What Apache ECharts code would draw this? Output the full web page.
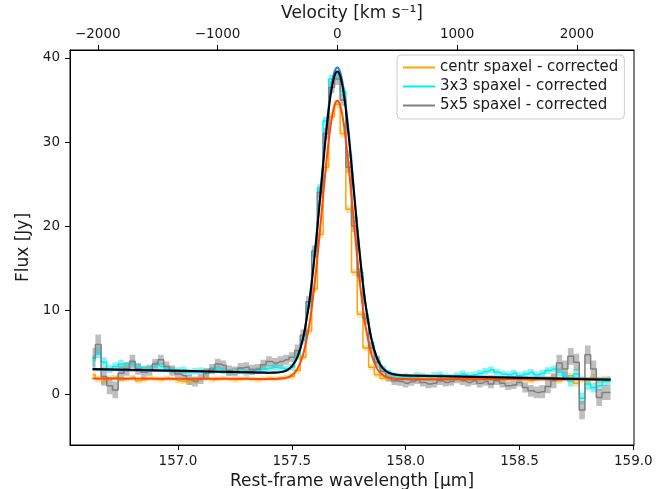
<!DOCTYPE html>
<html>
<head>
<meta charset="utf-8">
<script src="https://cdn.jsdelivr.net/npm/echarts@6/dist/echarts.min.js"></script>
<style>html,body{margin:0;padding:0;background:#fff}#c{width:657px;height:489px}</style>
</head>
<body>
<div id="c"></div>
<script>
// Channel wavelengths [μm]
const wavelength = [
156.625,156.65,156.675,156.7,156.725,156.75,156.775,156.8,156.825,156.85,
156.875,156.9,156.925,156.95,156.975,157.0,157.025,157.05,157.075,157.1,
157.125,157.15,157.175,157.2,157.225,157.25,157.275,157.3,157.325,157.35,
157.375,157.4,157.425,157.45,157.475,157.5,157.525,157.55,157.575,157.6,
157.625,157.65,157.675,157.7,157.725,157.75,157.775,157.8,157.825,157.85,
157.875,157.9,157.925,157.95,157.975,158.0,158.025,158.05,158.075,158.1,
158.125,158.15,158.175,158.2,158.225,158.25,158.275,158.3,158.325,158.35,
158.375,158.4,158.425,158.45,158.475,158.5,158.525,158.55,158.575,158.6,
158.625,158.65,158.675,158.7,158.725,158.75,158.775,158.8,158.825,158.85,
158.875,158.9];

const centrFlux = [
2.3,1.8,1.6,1.9,2.0,1.7,1.8,2.0,1.6,1.7,
1.9,1.8,1.7,1.9,1.8,1.6,1.5,1.4,1.6,1.8,
1.9,1.7,1.8,1.9,1.8,1.7,1.8,1.9,1.8,1.7,
1.8,1.9,1.8,1.9,2.0,2.1,2.8,4.4,7.5,12.5,
19.0,27.0,33.0,34.5,31.0,22.0,14.5,9.5,5.5,3.2,
2.3,1.9,1.8,1.7,1.8,1.9,1.8,1.7,1.8,1.9,
1.8,1.7,1.8,1.9,1.8,1.7,1.9,1.8,1.8,1.9,
2.0,1.8,1.7,1.8,1.9,1.8,1.7,1.6,1.8,1.9,
1.9,2.1,1.6,1.9,2.2,1.3,1.8,1.6,2.0,1.7,
1.8,1.8];
const centrErr = [
0.4,0.4,0.35,0.35,0.3,0.3,0.3,0.3,0.3,0.3,
0.3,0.3,0.3,0.3,0.3,0.3,0.3,0.3,0.3,0.3,
0.3,0.3,0.3,0.3,0.3,0.3,0.3,0.3,0.3,0.3,
0.3,0.3,0.3,0.3,0.3,0.3,0.35,0.35,0.4,0.4,
0.45,0.5,0.5,0.5,0.5,0.45,0.4,0.4,0.35,0.35,
0.3,0.3,0.3,0.3,0.3,0.3,0.3,0.3,0.3,0.3,
0.3,0.3,0.3,0.3,0.3,0.3,0.3,0.3,0.3,0.3,
0.3,0.3,0.3,0.3,0.3,0.3,0.3,0.3,0.3,0.3,
0.3,0.3,0.35,0.35,0.35,0.4,0.4,0.4,0.4,0.4,
0.4,0.4];

const flux3x3 = [
4.0,5.0,3.8,3.0,3.3,3.6,3.4,3.7,3.2,3.0,
3.1,3.5,3.3,3.0,2.9,2.8,2.9,2.6,2.7,2.8,
2.6,2.9,3.0,2.8,2.6,2.7,2.8,2.6,2.7,2.8,
3.0,3.1,3.2,3.1,3.0,3.2,4.6,6.5,10.5,16.8,
24.5,32.5,37.5,38.0,36.0,28.5,21.0,14.5,9.0,5.8,
4.0,3.0,2.5,2.2,2.0,2.1,2.0,2.2,2.1,2.0,
2.2,2.3,2.1,2.0,2.2,2.4,2.2,2.3,2.5,2.7,
2.9,2.6,2.4,2.3,2.5,2.2,2.4,2.6,2.3,2.5,
2.8,3.0,2.6,2.2,1.5,2.4,-0.5,1.2,0.8,1.0,
1.5,1.6];
const err3x3 = [
0.7,0.7,0.6,0.5,0.5,0.5,0.4,0.4,0.4,0.4,
0.4,0.4,0.4,0.4,0.4,0.4,0.4,0.4,0.4,0.4,
0.4,0.4,0.4,0.4,0.4,0.4,0.4,0.4,0.4,0.4,
0.4,0.4,0.4,0.4,0.4,0.4,0.5,0.5,0.5,0.5,
0.5,0.5,0.5,0.5,0.5,0.5,0.5,0.5,0.5,0.5,
0.5,0.4,0.4,0.4,0.4,0.4,0.4,0.4,0.4,0.4,
0.4,0.4,0.4,0.4,0.4,0.4,0.4,0.4,0.4,0.4,
0.4,0.4,0.4,0.4,0.4,0.4,0.4,0.4,0.4,0.4,
0.4,0.4,0.5,0.5,0.6,0.6,0.7,0.7,0.6,0.6,
0.5,0.5];

const flux5x5 = [
4.3,5.9,2.1,1.0,0.5,2.5,3.0,3.9,3.0,2.6,
2.8,3.6,4.1,3.3,2.8,2.4,2.2,1.7,1.5,1.8,
2.5,3.0,3.6,3.4,2.8,2.7,3.1,3.2,2.9,3.0,
3.5,3.9,3.7,3.9,4.1,4.4,5.2,7.0,11.0,17.0,
24.0,31.0,36.5,37.5,35.0,27.0,20.0,14.0,9.0,5.5,
3.8,2.7,2.0,1.6,1.5,1.3,1.5,1.7,1.4,1.2,
1.3,1.6,1.4,1.5,1.8,1.6,1.4,1.6,1.3,1.5,
1.2,1.6,1.3,1.0,1.1,1.4,0.8,0.4,0.2,0.3,
0.9,1.6,3.7,3.0,4.5,3.8,-1.9,4.7,3.0,-0.4,
0.2,0.2];
const err5x5 = [
1.2,1.2,1.1,1.0,1.0,0.9,0.8,0.8,0.7,0.7,
0.6,0.6,0.6,0.6,0.6,0.6,0.6,0.6,0.6,0.6,
0.6,0.6,0.6,0.6,0.6,0.6,0.6,0.6,0.6,0.6,
0.6,0.6,0.6,0.6,0.6,0.6,0.7,0.7,0.7,0.7,
0.7,0.7,0.7,0.7,0.7,0.7,0.7,0.7,0.7,0.7,
0.7,0.5,0.5,0.5,0.5,0.5,0.5,0.5,0.5,0.5,
0.5,0.5,0.5,0.5,0.5,0.5,0.5,0.5,0.5,0.5,
0.5,0.5,0.5,0.5,0.5,0.5,0.6,0.7,0.7,0.8,
0.8,0.9,1.0,1.0,1.0,1.0,1.1,1.1,1.0,1.0,
0.9,0.9];

// Fitted models
const fitWave = [156.625,157.30,157.35,157.40,157.425,157.45,157.475,157.50,157.525,157.55,
157.575,157.5875,157.60,157.6125,157.625,157.6375,157.65,157.6625,157.675,157.6875,
157.70,157.7125,157.725,157.7375,157.75,157.7625,157.775,157.7875,157.80,157.8125,
157.825,157.85,157.875,157.90,157.925,157.95,157.975,158.00,158.05,158.90];
const fitCentr = [1.85,1.82,1.81,1.81,1.81,1.85,1.94,2.24,3.01,4.71,
7.91,10.22,13.02,16.26,19.82,23.50,27.06,30.23,32.74,34.34,
34.90,34.34,32.74,30.23,27.06,23.50,19.82,16.26,13.02,10.22,
7.91,4.71,3.01,2.24,1.94,1.84,1.80,1.79,1.78,1.74];
const fit3x3 = [2.90,2.57,2.55,2.53,2.54,2.59,2.78,3.28,4.45,6.74,
10.71,13.40,16.53,20.06,23.79,27.59,31.18,34.34,36.78,38.35,
38.88,38.34,36.76,34.29,31.14,27.52,23.72,19.96,16.44,13.27,
10.59,6.61,4.30,3.11,2.60,2.37,2.30,2.24,2.21,1.80];
const fit5x5 = [3.00,2.61,2.59,2.56,2.57,2.62,2.80,3.30,4.44,6.70,
10.60,13.25,16.35,19.82,23.51,27.25,30.79,33.90,36.32,37.86,
38.39,37.85,36.29,33.85,30.74,27.18,23.42,19.72,16.24,13.12,
10.45,6.53,4.24,3.07,2.55,2.33,2.26,2.21,2.19,1.70];

const lambdaTicks = [157.0, 157.5, 158.0, 158.5, 159.0];
const velocityTicks = [-2000, -1000, 0, 1000, 2000];
const fluxTicks = [0, 10, 20, 30, 40];
const seriesNames = ['centr spaxel - corrected', '3x3 spaxel - corrected', '5x5 spaxel - corrected'];

const lambdaMin = 156.526, lambdaMax = 159.003;
const restLambda = 157.70;
const cKms = 299792.458;
const velMin = (lambdaMin - restLambda) / restLambda * cKms;
const velMax = (lambdaMax - restLambda) / restLambda * cKms;

const FONT = 'DejaVu Sans';
const TXT = '#1a1a1a';

function pairs(xs, ys) { return xs.map((x, i) => [x, ys[i]]); }

// Step-shaped error band drawn as one polygon through the axis scales
function band(name, flux, err, fill) {
  const n = wavelength.length;
  return {
    type: 'custom', name: name, coordinateSystem: 'cartesian2d', silent: true, clip: true,
    data: [[wavelength[0], flux[0]]],
    renderItem: function (params, api) {
      const edgeL = i => (i === 0 ? wavelength[0] : (wavelength[i - 1] + wavelength[i]) / 2);
      const edgeR = i => (i === n - 1 ? wavelength[n - 1] : (wavelength[i] + wavelength[i + 1]) / 2);
      const pts = [];
      for (let i = 0; i < n; i++) {
        pts.push(api.coord([edgeL(i), flux[i] + err[i]]));
        pts.push(api.coord([edgeR(i), flux[i] + err[i]]));
      }
      for (let i = n - 1; i >= 0; i--) {
        pts.push(api.coord([edgeR(i), flux[i] - err[i]]));
        pts.push(api.coord([edgeL(i), flux[i] - err[i]]));
      }
      return { type: 'polygon', shape: { points: pts }, style: { fill: fill, stroke: null } };
    }
  };
}
function dataLine(name, flux, color) {
  return { type: 'line', name: name, step: 'middle', symbol: 'none', data: pairs(wavelength, flux),
    lineStyle: { color: color, width: 1.5 }, itemStyle: { color: color } };
}
function fitLine(name, ys, color) {
  return { type: 'line', name: name, symbol: 'none', smooth: 0.3,
    data: pairs(fitWave, ys), lineStyle: { color: color, width: 2 }, itemStyle: { color: color } };
}

const series = [
  band('band centr', centrFlux, centrErr, 'rgba(255,165,0,0.35)'),
  dataLine(seriesNames[0], centrFlux, '#FFA500'),
  band('band 3x3', flux3x3, err3x3, 'rgba(0,225,225,0.45)'),
  dataLine(seriesNames[1], flux3x3, '#00F0F0'),
  band('band 5x5', flux5x5, err5x5, 'rgba(128,128,128,0.5)'),
  dataLine(seriesNames[2], flux5x5, '#808080'),
  fitLine('fit centr', fitCentr, '#FF4A0A'),
  fitLine('fit 3x3', fit3x3, '#1E7FE0'),
  fitLine('fit 5x5', fit5x5, '#000000')
];

const chart = echarts.init(document.getElementById('c'), null, { renderer: 'canvas' });
const axisLine = { show: true, onZero: false, lineStyle: { color: '#000', width: 1 } };
const tickStyle = { show: true, length: 5, lineStyle: { color: '#000', width: 1 } };
const nameStyle = { fontFamily: FONT, fontSize: 17, color: TXT };
chart.setOption({
  animation: false,
  backgroundColor: '#fff',
  textStyle: { fontFamily: FONT },
  grid: { left: 70, right: 23, top: 50, bottom: 44, outerBoundsMode: 'none', containLabel: false,
    show: true, borderColor: '#000', borderWidth: 1, backgroundColor: 'transparent' },
  legend: {
    data: seriesNames, orient: 'vertical', left: 397, top: 55,
    icon: 'rect', itemWidth: 32, itemHeight: 2, itemGap: 4, itemTextGap: 10,
    padding: [5, 6, 6, 6],
    backgroundColor: 'rgba(255,255,255,0.8)', borderColor: '#cccccc', borderWidth: 1, borderRadius: 4,
    textStyle: { fontFamily: FONT, fontSize: 15, color: TXT, lineHeight: 14 }, selectedMode: false
  },
  xAxis: [
    {
      type: 'value', position: 'bottom', min: lambdaMin, max: lambdaMax,
      name: 'Rest-frame wavelength [μm]', nameLocation: 'middle', nameGap: 22, nameTextStyle: nameStyle,
      axisLine: axisLine, splitLine: { show: false },
      axisTick: Object.assign({}, tickStyle, { customValues: lambdaTicks }),
      axisLabel: { customValues: lambdaTicks, formatter: v => Number(v).toFixed(1), margin: 9,
        fontFamily: FONT, fontSize: 13.5, color: TXT }
    },
    {
      type: 'value', position: 'top', min: velMin, max: velMax,
      name: 'Velocity [km s⁻¹]', nameLocation: 'middle', nameGap: 24, nameTextStyle: nameStyle,
      axisLine: axisLine, splitLine: { show: false },
      axisTick: Object.assign({}, tickStyle, { customValues: velocityTicks }),
      axisLabel: { customValues: velocityTicks, formatter: v => (v < 0 ? '\u2212' + Math.abs(v) : String(v)), margin: 9,
        fontFamily: FONT, fontSize: 13.5, color: TXT }
    }
  ],
  yAxis: {
    type: 'value', min: -6.05, max: 40.95,
    name: 'Flux [Jy]', nameLocation: 'middle', nameGap: 38, nameTextStyle: nameStyle,
    axisLine: axisLine, splitLine: { show: false },
    axisTick: Object.assign({}, tickStyle, { customValues: fluxTicks }),
    axisLabel: { customValues: fluxTicks, margin: 10, fontFamily: FONT, fontSize: 13.5, color: TXT }
  },
  series: series
});
</script>
</body>
</html>
